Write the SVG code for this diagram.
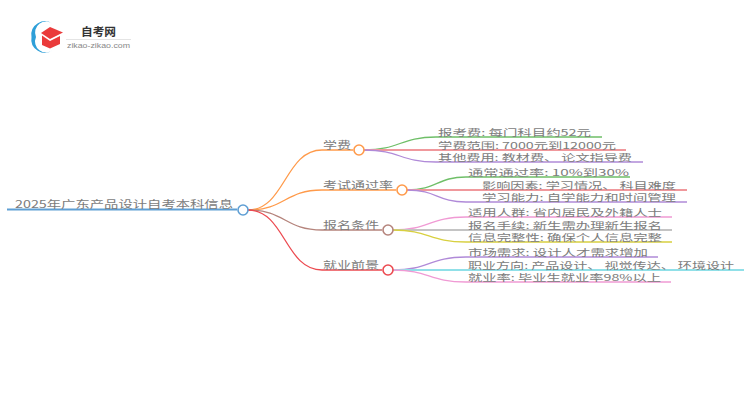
<svg xmlns="http://www.w3.org/2000/svg" width="750" height="410" viewBox="0 0 750 410">
<style>
text{font-family:"Noto Sans CJK SC","Liberation Sans",sans-serif;font-size:9.5px;fill:#7c7c7c}
.n{font-size:10.5px}
.c{fill:none;stroke-width:1.3}
.w{stroke-width:2}
.m{fill:#fff;stroke-width:1.6}
.o{stroke:#ff9a4a}.g{stroke:#6fbf68}.r{stroke:#f0989c}.p{stroke:#b08ad8}.b{stroke:#b5847c}.d{stroke:#ec4a50}
.k{stroke:#f09ad4}.y{stroke:#c4c4c4}.l{stroke:#d8d040}.t{stroke:#90e0e8}.u{stroke:#5f9fd4}
</style>
<rect width="750" height="410" fill="#fff"/>
<g id="logo">
<path d="M53 24A13.5 13.5 0 0 0 31.500 37A13.500 13.500 0 0 0 53 50A11 11 0 0 1 36 37A11 11 0 0 1 53 24Z" fill="#2e9fd8"/>
<path d="M50 27L63 32.500L50 39L41 33Z" fill="#ea3b3b"/>
<path d="M42 35.500L50 41L60 36V44L50 48.500L42 45Z" fill="#ea3b3b"/>
<text x="81" y="35.500" style="font-size:11.500px;font-weight:700;fill:#333" textLength="35" lengthAdjust="spacingAndGlyphs">自考网</text>
<rect x="66" y="39" width="65" height="1" fill="#e4e4e4"/>
<text x="67" y="48" style="font-size:7.500px;font-family:'Liberation Sans',sans-serif;fill:#888" textLength="63" lengthAdjust="spacingAndGlyphs">zikao-zikao.com</text>
</g>
<g id="connectors">
<path class="c u w" d="M7 209.500H237"/>
<path class="c o" d="M248 210C285 210 285 150 322 150H353"/>
<path class="c o" d="M248 210C285 210 285 190 322 190H396"/>
<path class="c b" d="M248 210C285 210 285 230 322 230H382"/>
<path class="c d" d="M248 210C285 210 285 270 322 270H382"/>
<path class="c g" d="M364 150C400 150 400 137 436 137H602"/>
<path class="c r w" d="M364 150H626"/>
<path class="c p" d="M364 150C400 150 400 162 436 162H643"/>
<path class="c g" d="M407 190C437 190 437 177 466 177H630"/>
<path class="c r w" d="M407 190H687"/>
<path class="c p" d="M407 190C437 190 437 202 466 202H687"/>
<path class="c k" d="M393 230C429 230 429 217 466 217H672"/>
<path class="c y w" d="M393 230H672"/>
<path class="c l" d="M393 230C429 230 429 242 466 242H672"/>
<path class="c p" d="M393 270C429 270 429 257 466 257H658"/>
<path class="c t w" d="M393 270H744"/>
<path class="c k" d="M393 270C429 270 429 282 466 282H671"/>
</g>
<g id="root"><circle class="m u" cx="243" cy="210" r="5"/><text class="n" x="15" y="207.500" textLength="218" lengthAdjust="spacingAndGlyphs">2025年广东产品设计自考本科信息</text></g>
<g id="n1"><circle class="m o" cx="359" cy="150" r="5"/><text class="n" x="323" y="148.500" textLength="28" lengthAdjust="spacingAndGlyphs">学费</text></g>
<g id="n2"><circle class="m o" cx="402" cy="190" r="5"/><text class="n" x="323" y="188.500" textLength="70" lengthAdjust="spacingAndGlyphs">考试通过率</text></g>
<g id="n3"><circle class="m b" cx="388" cy="230" r="5"/><text class="n" x="323" y="228.500" textLength="56" lengthAdjust="spacingAndGlyphs">报名条件</text></g>
<g id="n4"><circle class="m d" cx="388" cy="270" r="5"/><text class="n" x="323" y="268.500" textLength="56" lengthAdjust="spacingAndGlyphs">就业前景</text></g>
<g id="l11"><text x="438" y="136" textLength="153" lengthAdjust="spacingAndGlyphs">报考费: 每门科目约52元</text></g>
<g id="l12"><text x="438" y="148.500" textLength="178" lengthAdjust="spacingAndGlyphs">学费范围: 7000元到12000元</text></g>
<g id="l13"><text x="438" y="161" textLength="194" lengthAdjust="spacingAndGlyphs">其他费用: 教材费、 论文指导费</text></g>
<g id="l21"><text x="468" y="176" textLength="161" lengthAdjust="spacingAndGlyphs">通常通过率: 10%到30%</text></g>
<g id="l22"><text x="482" y="188.500" textLength="194" lengthAdjust="spacingAndGlyphs">影响因素: 学习情况、 科目难度</text></g>
<g id="l23"><text x="482" y="201" textLength="194" lengthAdjust="spacingAndGlyphs">学习能力: 自学能力和时间管理</text></g>
<g id="l31"><text x="468" y="216" textLength="194" lengthAdjust="spacingAndGlyphs">适用人群: 省内居民及外籍人士</text></g>
<g id="l32"><text x="468" y="228.500" textLength="194" lengthAdjust="spacingAndGlyphs">报名手续: 新生需办理新生报名</text></g>
<g id="l33"><text x="468" y="241" textLength="194" lengthAdjust="spacingAndGlyphs">信息完整性: 确保个人信息完整</text></g>
<g id="l41"><text x="468" y="256" textLength="180" lengthAdjust="spacingAndGlyphs">市场需求: 设计人才需求增加</text></g>
<g id="l42"><text x="468" y="268.500" textLength="266" lengthAdjust="spacingAndGlyphs">职业方向: 产品设计、 视觉传达、 环境设计</text></g>
<g id="l43"><text x="468" y="281" textLength="193" lengthAdjust="spacingAndGlyphs">就业率: 毕业生就业率98%以上</text></g>
</svg>
